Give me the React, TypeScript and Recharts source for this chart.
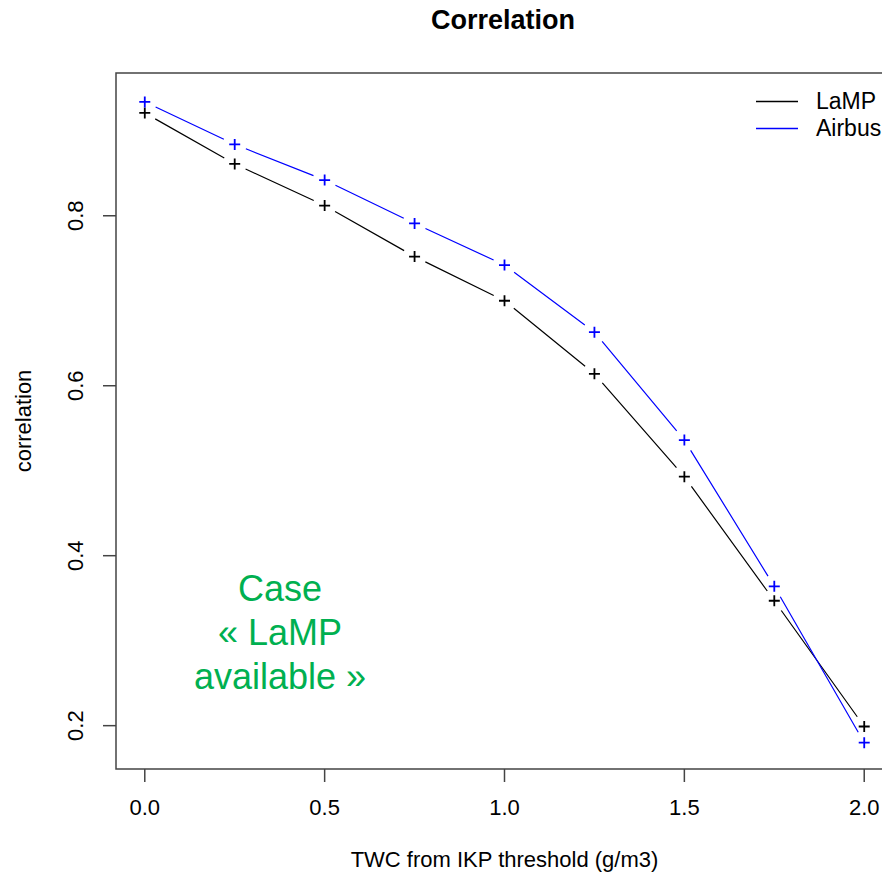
import React from 'react'
import { LineChart, Line, XAxis, YAxis, Legend, ReferenceArea, Label } from 'recharts'

const thresholds = [0, 0.25, 0.5, 0.75, 1, 1.25, 1.5, 1.75, 2]
const lamp = [0.921, 0.861, 0.812, 0.752, 0.7, 0.614, 0.493, 0.347, 0.199]
const airbus = [0.934, 0.884, 0.842, 0.791, 0.742, 0.663, 0.536, 0.364, 0.18]
const seriesNames = ['LaMP', 'Airbus']
const xTicks = [0, 0.5, 1, 1.5, 2]
const yTicks = [0.2, 0.4, 0.6, 0.8]
const caseLines = ['Case', '« LaMP', 'available »']

const data = thresholds.map((x, i) => ({ x, lamp: lamp[i], airbus: airbus[i] }))

const FONT = '"Liberation Sans", Arial, sans-serif'
const X_DOMAIN: [number, number] = [-0.08, 2.08]
const Y_DOMAIN: [number, number] = [0.149, 0.968]
const GAP = 12

// R type="b": line segments stop short of each point
const gapCurve = (context: any) => {
  let pts: [number, number][] = []
  return {
    areaStart() {},
    areaEnd() {},
    lineStart() { pts = [] },
    lineEnd() {
      for (let i = 0; i < pts.length - 1; i++) {
        const [x0, y0] = pts[i]
        const [x1, y1] = pts[i + 1]
        const len = Math.hypot(x1 - x0, y1 - y0)
        if (len <= 2 * GAP) continue
        const ux = (x1 - x0) / len, uy = (y1 - y0) / len
        context.moveTo(x0 + ux * GAP, y0 + uy * GAP)
        context.lineTo(x1 - ux * GAP, y1 - uy * GAP)
      }
    },
    point(x: number, y: number) { pts.push([x, y]) },
  }
}

const plus = (color: string) => (p: any) => {
  const { cx, cy, index } = p
  if (cx == null || cy == null) return <g key={index} />
  return <path key={index} d={`M${cx - 5.5},${cy}h11M${cx},${cy - 5.5}v11`} stroke={color} strokeWidth={1.8} fill="none" />
}

const YTick = (p: any) => {
  const { x, y, payload } = p
  return (
    <text x={x} y={y} transform={`rotate(-90 ${x} ${y})`} textAnchor="middle" fontSize={22} fontFamily={FONT} fill="#000">
      {payload.value.toFixed(1)}
    </text>
  )
}

const LegendBox = (p: any) => {
  const items = [...(p.payload ?? [])].sort((a: any, b: any) => seriesNames.indexOf(a.value) - seriesNames.indexOf(b.value))
  return (
    <div style={{ fontFamily: FONT, fontSize: 23, lineHeight: '27px', color: '#000' }}>
      {items.map((e: any) => (
        <div key={e.value} style={{ display: 'flex', alignItems: 'center', height: 27 }}>
          <svg width={60} height={27}><line x1={0} x2={42} y1={13.5} y2={13.5} stroke={e.color} strokeWidth={1.3} /></svg>
          <span>{e.value}</span>
        </div>
      ))}
    </div>
  )
}

export default function App() {
  return (
    <div style={{ position: 'absolute', left: 0, top: 0, width: 882, height: 877, overflow: 'hidden', background: '#fff' }}>
      <LineChart width={900} height={877} data={data} margin={{ top: 73, right: 7, bottom: 0, left: 0 }}>
        <XAxis dataKey="x" type="number" domain={X_DOMAIN} ticks={xTicks} allowDataOverflow
          tickFormatter={(v: number) => v.toFixed(1)} axisLine={false} tickSize={13} tickMargin={17}
          tickLine={{ stroke: '#444', strokeWidth: 1.5 }} tick={{ fill: '#000', fontSize: 22, fontFamily: FONT }} height={108}>
          <Label value="TWC from IKP threshold (g/m3)" position="insideBottom" offset={10} fill="#000" fontSize={22} fontFamily={FONT} />
        </XAxis>
        <YAxis type="number" domain={Y_DOMAIN} ticks={yTicks} allowDataOverflow axisLine={false} width={116}
          tickSize={13} tickMargin={20} tickLine={{ stroke: '#444', strokeWidth: 1.5 }} tick={<YTick />}>
          <Label content={(p: any) => {
            const vb = p.viewBox ?? { x: 0, y: 73, width: 116, height: 696 }
            const cy = vb.y + vb.height / 2
            return <text x={31} y={cy} transform={`rotate(-90 31 ${cy})`} textAnchor="middle" fontSize={22} fontFamily={FONT} fill="#000">correlation</text>
          }} />
        </YAxis>
        <ReferenceArea x1={X_DOMAIN[0]} x2={X_DOMAIN[1]} y1={Y_DOMAIN[0]} y2={Y_DOMAIN[1]} fill="none" stroke="#444" strokeWidth={1.5} fillOpacity={0} />
        <Legend layout="vertical" verticalAlign="middle" align="center" content={<LegendBox />}
          wrapperStyle={{ top: 88, left: 756, width: 140 }} />
        <Line dataKey="lamp" name="LaMP" stroke="#000" strokeWidth={1.2} type={gapCurve as any} dot={plus('#000')} activeDot={false} isAnimationActive={false} />
        <Line dataKey="airbus" name="Airbus" stroke="#0000FF" strokeWidth={1.2} type={gapCurve as any} dot={plus('#0000FF')} activeDot={false} isAnimationActive={false} />
      </LineChart>
      <svg width={882} height={877} style={{ position: 'absolute', left: 0, top: 0, pointerEvents: 'none' }}>
        <text x={503} y={29} textAnchor="middle" fontSize={27} fontWeight="bold" fontFamily={FONT} fill="#000">Correlation</text>
        {caseLines.map((t, i) => (
          <text key={t} x={280} y={601 + i * 44} textAnchor="middle" fontSize={36} fontFamily={FONT} fill="#00B050">{t}</text>
        ))}
      </svg>
    </div>
  )
}
